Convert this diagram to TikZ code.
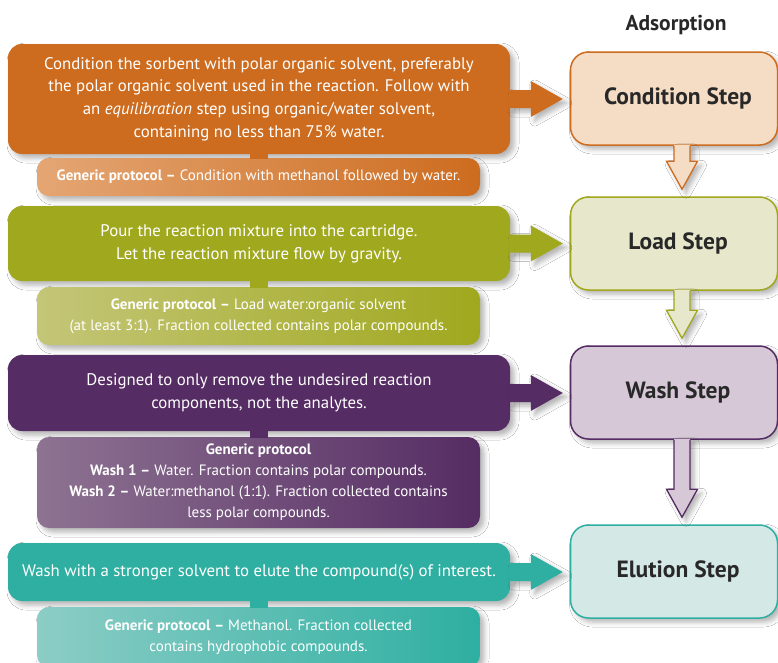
\documentclass[tikz,border=0pt]{standalone}
\usepackage{fontspec}
\setmainfont{PT Sans}
\usetikzlibrary{calc,shadows.blur}
\definecolor{orA}{RGB}{205,108,31}
\definecolor{orL}{RGB}{245,220,196}
\definecolor{orG}{RGB}{228,166,116}
\definecolor{grA}{RGB}{160,168,30}
\definecolor{grL}{RGB}{231,231,204}
\definecolor{grG}{RGB}{196,198,120}
\definecolor{puA}{RGB}{85,44,99}
\definecolor{puL}{RGB}{214,200,214}
\definecolor{puG}{RGB}{142,115,146}
\definecolor{teA}{RGB}{46,175,161}
\definecolor{teL}{RGB}{212,232,230}
\definecolor{teG}{RGB}{140,205,198}
\definecolor{txD}{RGB}{40,40,40}
\tikzset{
  softshadow/.style={blur shadow={shadow xshift=4pt,shadow yshift=-4pt,shadow blur radius=5pt,shadow opacity=30}},
  mainbox/.style={rounded corners=14pt,minimum width=502pt,inner sep=0pt,text=white,align=center,
    font=\fontsize{16.8}{22.8}\selectfont,softshadow},
  genbox/.style={rounded corners=12pt,minimum width=443pt,inner sep=0pt,text=white,align=center,
    font=\fontsize{15}{21}\selectfont,softshadow},
  stepbox/.style={rounded corners=18pt,minimum width=207pt,minimum height=93pt,inner sep=0pt,
    line width=1.5pt,text=txD,font=\bfseries\fontsize{23.5}{26}\selectfont,softshadow,
    execute at begin node={\hspace*{8pt}}},
  stub/.style={line width=18pt},
}
\newcommand\rarrow[3]{%
  \fill[#3,softshadow] let \p1=(#1.east), \p2=(#2.west) in
   (\x1-1pt,\y1+9pt) -- (\x2-39pt,\y1+9pt) -- (\x2-39pt,\y1+18pt) -- (\x2-7pt,\y1)
   -- (\x2-39pt,\y1-18pt) -- (\x2-39pt,\y1-9pt) -- (\x1-1pt,\y1-9pt) -- cycle;}
\newcommand\dnarrow[4]{%
  \fill[#3,softshadow] let \p1=(#1.south), \p2=(#2.north) in
   (\x1+0pt,\y1+1pt) -- (\x1+0pt,\y2+35pt) -- (\x1-7.5pt,\y2+35pt) -- (\x1+8pt,\y2+7pt)
   -- (\x1+23.5pt,\y2+35pt) -- (\x1+16pt,\y2+35pt) -- (\x1+16pt,\y1+1pt) -- cycle;
  \draw[#4,line width=1.3pt,line join=miter] let \p1=(#1.south), \p2=(#2.north) in
   (\x1+0pt,\y1) -- (\x1+0pt,\y2+35pt) -- (\x1-7.5pt,\y2+35pt) -- (\x1+8pt,\y2+7pt)
   -- (\x1+23.5pt,\y2+35pt) -- (\x1+16pt,\y2+35pt) -- (\x1+16pt,\y1);}
\begin{document}
\begin{tikzpicture}[x=1pt,y=-1pt]
\useasboundingbox[fill=white] (0,0) rectangle (778,662);
\node[font=\bfseries\fontsize{21.5}{24}\selectfont,text=txD] (ads) at (676,25) {Adsorption};
% step boxes
\node[stepbox,fill=orL,draw=orA] (s1) at (674,98.5) {Condition Step};
\node[stepbox,fill=grL,draw=grA] (s2) at (674,243.5) {Load Step};
\node[stepbox,fill=puL,draw=puA] (s3) at (674,392.5) {Wash Step};
\node[stepbox,fill=teL,draw=teA] (s4) at (674,571.5) {Elution Step};
\dnarrow{s1}{s2}{orL}{orA}
\dnarrow{s2}{s3}{grL}{grA}
\dnarrow{s3}{s4}{puL}{puA}
% main boxes
\node[mainbox,fill=orA,minimum height=110pt] (m1) at (259,99)
 {\rule{0pt}{6pt}Condition the sorbent with polar organic solvent, preferably\\
  the polar organic solvent used in the reaction. Follow with\\
  an \textit{equilibration} step using organic/water solvent,\\
  containing no less than 75\% water.};
\node[genbox,left color=orG,right color=orA,minimum height=38pt] (g1) at (258.5,177)
 {\textbf{Generic protocol –} Condition with methanol followed by water.};
\node[mainbox,fill=grA,minimum height=75pt] (m2) at (259,243.5)
 {Pour the reaction mixture into the cartridge.\\
  Let the reaction mixture flow by gravity.};
\node[genbox,left color=grG,right color=grA,minimum height=58pt] (g2) at (258.5,316)
 {\textbf{Generic protocol –} Load water:organic solvent\\
  (at least 3:1). Fraction collected contains polar compounds.};
\node[mainbox,fill=puA,minimum height=76pt] (m3) at (259,393)
 {Designed to only remove the undesired reaction\\
  components, not the analytes.};
\node[genbox,left color=puG,right color=puA,minimum height=91pt] (g3) at (258.5,482.5)
 {\textbf{Generic protocol}\\
  \textbf{Wash 1 –} Water. Fraction contains polar compounds.\\
  \textbf{Wash 2 –} Water:methanol (1:1). Fraction collected contains\\
  less polar compounds.};
\node[mainbox,fill=teA,minimum height=58pt] (m4) at (259,572)
 {Wash with a stronger solvent to elute the compound(s) of interest.};
\node[genbox,left color=teG,right color=teA,minimum height=60pt] (g4) at (258.5,637)
 {\textbf{Generic protocol –} Methanol. Fraction collected\\
  contains hydrophobic compounds.};
% stubs
\draw[stub,orA] ([yshift=1pt]m1.south) -- ([yshift=-1pt]m1.south |- g1.north);
\draw[stub,grA] ([yshift=1pt]m2.south) -- ([yshift=-1pt]m2.south |- g2.north);
\draw[stub,puA] ([yshift=1pt]m3.south) -- ([yshift=-1pt]m3.south |- g3.north);
\draw[stub,teA] ([yshift=1pt]m4.south) -- ([yshift=-1pt]m4.south |- g4.north);
% right arrows
\rarrow{m1}{s1}{orA}
\rarrow{m2}{s2}{grA}
\rarrow{m3}{s3}{puA}
\rarrow{m4}{s4}{teA}
\end{tikzpicture}
\end{document}
